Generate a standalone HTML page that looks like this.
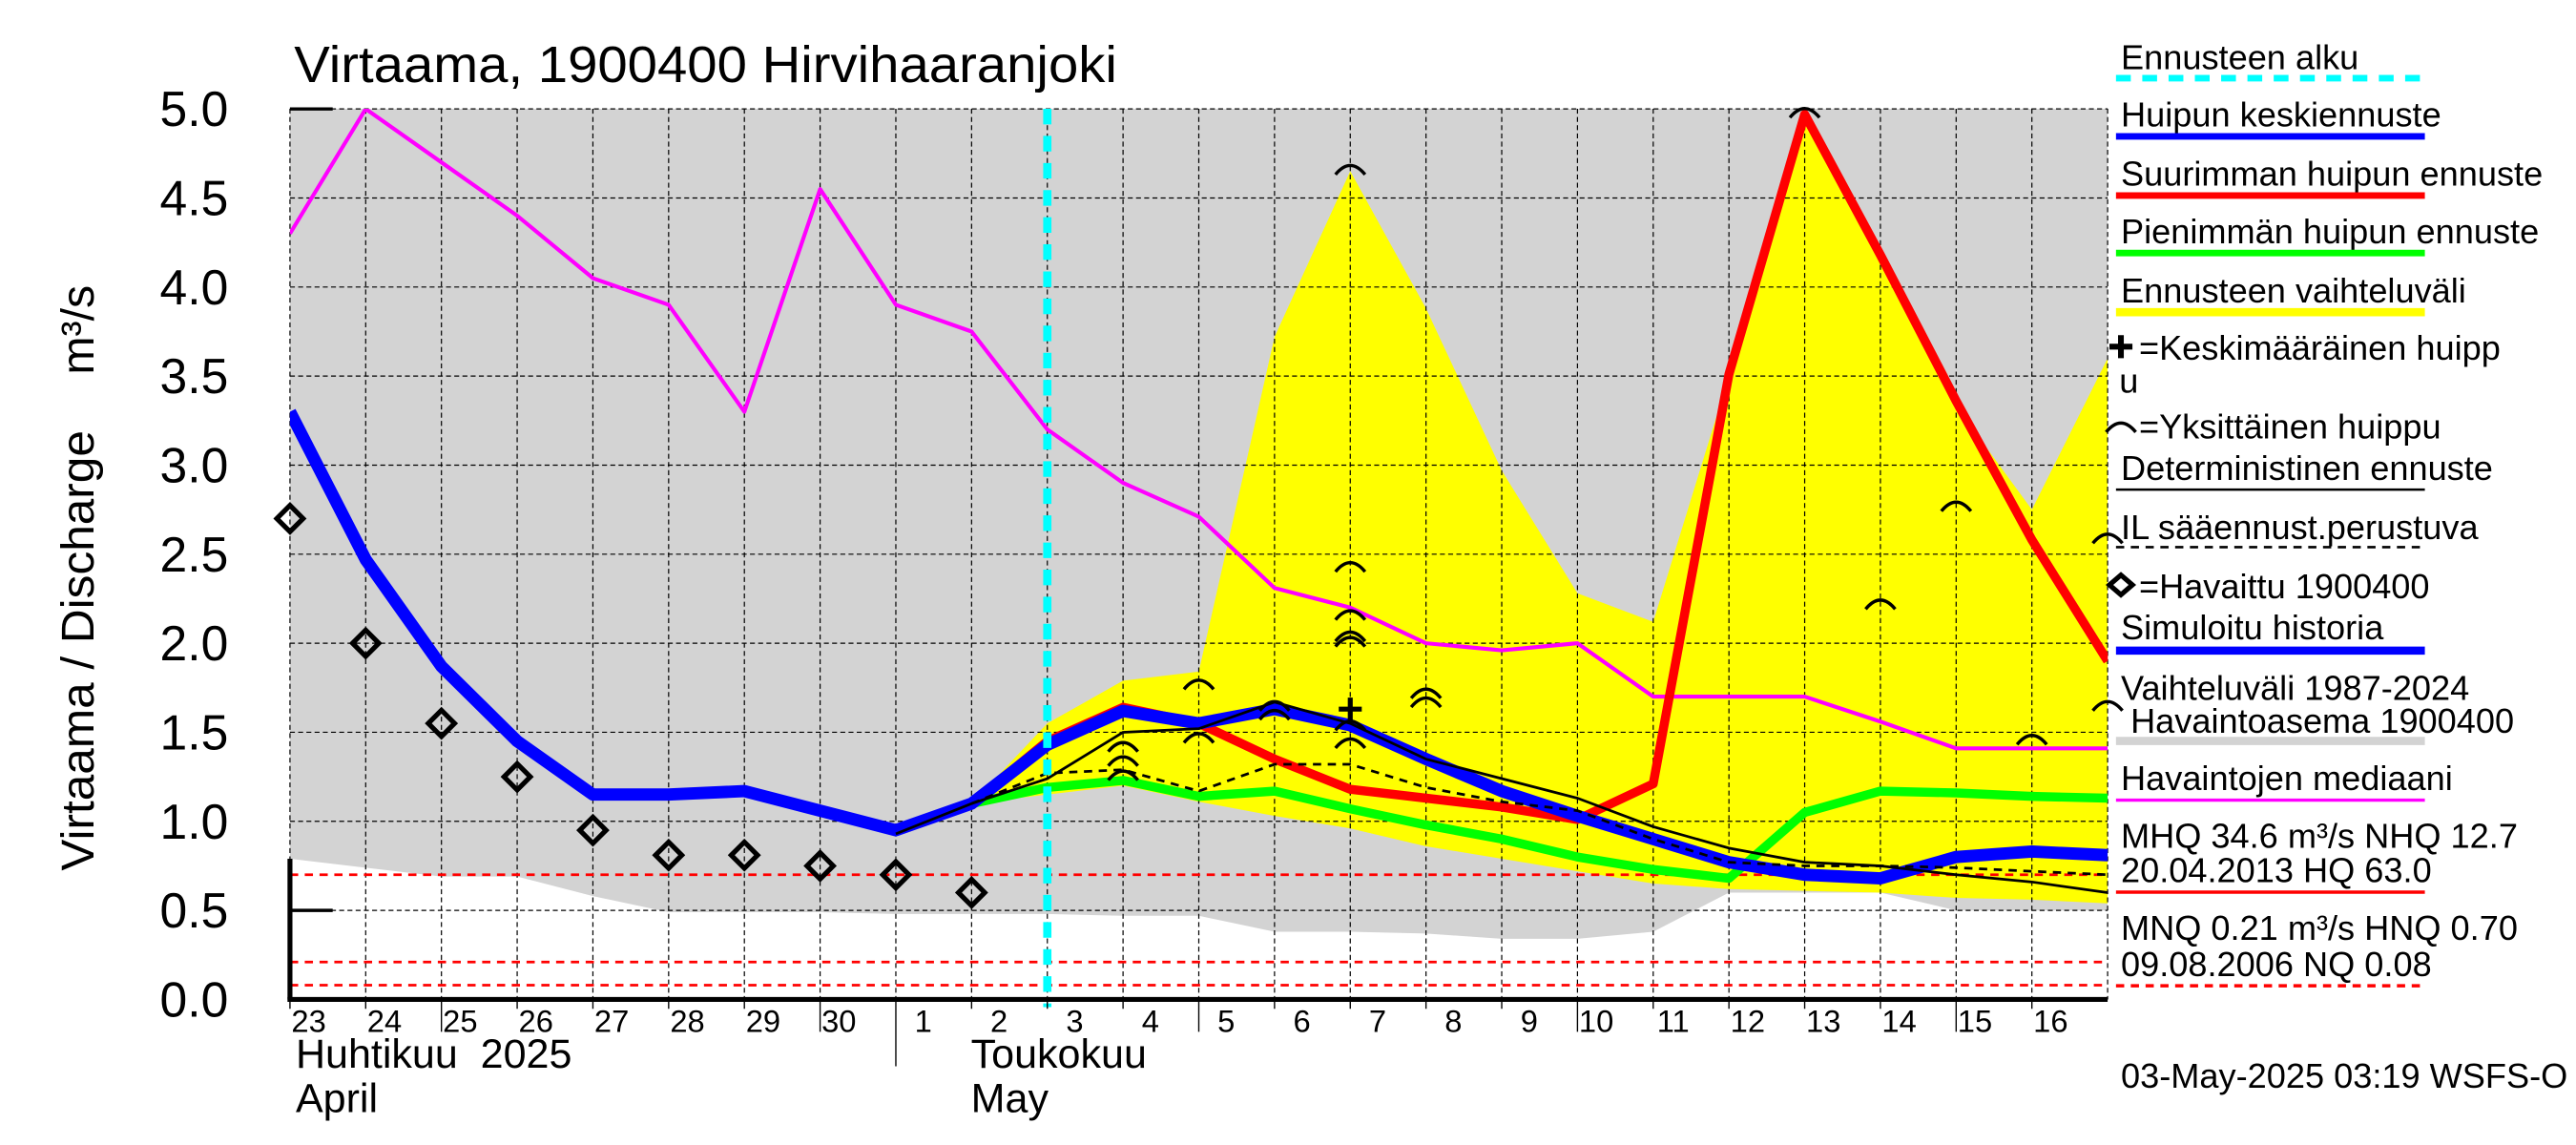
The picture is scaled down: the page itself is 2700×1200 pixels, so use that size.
<!DOCTYPE html>
<html><head><meta charset="utf-8"><style>
html,body{margin:0;padding:0;background:#fff;}
svg{display:block;font-family:"Liberation Sans",sans-serif;}
text{white-space:pre;}
</style></head><body>
<svg id="chart" width="2700" height="1200" viewBox="0 0 1568 696.9" preserveAspectRatio="none" xmlns="http://www.w3.org/2000/svg">
<defs><clipPath id="pc"><rect x="176.5" y="66.2" width="1106.5" height="542.1"/></clipPath></defs>
<g id="fills" clip-path="url(#pc)"></g>
<g id="grid"></g>
<g id="lines" clip-path="url(#pc)"></g>
<g id="marks"></g>
<g id="axes"></g>
<text x="179" y="50" font-size="31" textLength="501" lengthAdjust="spacingAndGlyphs">Virtaama, 1900400 Hirvihaaranjoki</text>
<text transform="translate(57,530) rotate(-90)" font-size="28" textLength="268" lengthAdjust="spacingAndGlyphs">Virtaama / Discharge</text>
<text transform="translate(57,228) rotate(-90)" font-size="28">m³/s</text>
<g id="legend" font-size="21"></g>
<text x="1291" y="662" font-size="21">03-May-2025 03:19 WSFS-O</text>
</svg>
<script>
const dayLabels = ["23","24","25","26","27","28","29","30","1","2","3","4","5","6","7","8","9","10","11","12","13","14","15","16"];
const yTicks = [0,0.5,1,1.5,2,2.5,3,3.5,4,4.5,5];
const yTickLabels = ["0.0","0.5","1.0","1.5","2.0","2.5","3.0","3.5","4.0","4.5","5.0"];
const medianSeries = [4.3,5.0,4.7,4.4,4.05,3.9,3.3,4.55,3.9,3.75,3.2,2.9,2.71,2.31,2.2,2.0,1.96,2.0,1.7,1.7,1.7,1.56,1.41,1.41,1.41];
const simSeries = [3.3,2.47,1.87,1.45,1.15,1.15,1.17,1.06,0.95,1.1,1.43,1.62,1.55,1.63,1.54,1.35,1.17,1.03,0.9,0.77,0.7,0.68,0.8,0.83,0.81];
const maxSeries = [null,null,null,null,null,null,null,null,null,1.1,1.45,1.64,1.55,1.35,1.18,1.13,1.08,1.01,1.21,3.51,4.97,4.18,3.36,2.58,1.9];
const minSeries = [null,null,null,null,null,null,null,null,null,1.1,1.19,1.23,1.14,1.17,1.07,0.98,0.9,0.8,0.73,0.68,1.05,1.17,1.16,1.14,1.13];
const detSeries = [null,null,null,null,null,null,null,null,0.93,1.1,1.24,1.5,1.52,1.67,1.55,1.35,1.24,1.13,0.97,0.85,0.77,0.75,0.7,0.66,0.6];
const ilSeries = [null,null,null,null,null,null,null,null,null,1.1,1.27,1.29,1.17,1.32,1.32,1.19,1.11,1.06,0.9,0.77,0.75,0.75,0.74,0.72,0.7];
const bandUpper = [null,null,null,null,null,null,null,null,null,1.1,1.55,1.79,1.84,3.72,4.65,3.88,2.97,2.28,2.12,3.5,4.97,4.2,3.33,2.75,3.6];
const bandLower = [null,null,null,null,null,null,null,null,null,1.1,1.15,1.2,1.11,1.03,0.96,0.86,0.79,0.72,0.65,0.62,0.61,0.6,0.57,0.56,0.54];
const histUpper = [5.3,5.3,5.3,5.3,5.3,5.3,5.3,5.3,5.3,5.3,5.3,5.3,5.3,5.3,5.3,5.3,5.3,5.3,5.3,5.3,5.3,5.3,5.3,5.3,5.3];
const histLower = [0.79,0.74,0.69,0.69,0.58,0.49,0.49,0.49,0.48,0.48,0.48,0.47,0.47,0.38,0.38,0.37,0.34,0.34,0.38,0.6,0.6,0.6,0.5,0.5,0.5];
const obsDays = [0,1,2,3,4,5,6,7,8,9];
const obsValues = [2.7,2.0,1.55,1.25,0.95,0.81,0.81,0.75,0.7,0.6];
const peakDays = [11,11,11,12,12,13,13,14,14,14,14,14,14,14,15,15,20,21,22,23,24,24];
const peakValues = [1.25,1.33,1.41,1.76,1.46,1.64,1.59,4.65,2.42,2.15,2.03,2.0,1.53,1.43,1.71,1.66,4.97,2.21,2.76,1.45,2.58,1.64];
const meanPeakDay = [14];
const meanPeakValue = [1.63];
const refLevels = [0.70,0.21,0.08];
const forecastStart = [10];

const NS="http://www.w3.org/2000/svg";
const X0=176.5, DX=46.1, Y0=608.3, KY=108.4;
function X(d){return X0+d*DX;}
function Y(v){return Y0-v*KY;}
function mk(tag,attrs,parent){const e=document.createElementNS(NS,tag);for(const k in attrs)e.setAttribute(k,attrs[k]);parent.appendChild(e);return e;}
const fills=document.getElementById('fills'),grid=document.getElementById('grid'),lines=document.getElementById('lines'),marks=document.getElementById('marks'),axes=document.getElementById('axes'),legend=document.getElementById('legend');

function bandPath(up,lo){let top=[],bot=[];up.forEach((v,i)=>{if(v!=null)top.push(X(i).toFixed(1)+','+Y(v).toFixed(1));});
 for(let i=lo.length-1;i>=0;i--){if(lo[i]!=null)bot.push(X(i).toFixed(1)+','+Y(lo[i]).toFixed(1));}return 'M'+top.join('L')+'L'+bot.join('L')+'Z';}
function linePath(s){let p='',st=false;s.forEach((v,i)=>{if(v==null){st=false;return;}p+=(st?'L':'M')+X(i).toFixed(1)+','+Y(v).toFixed(1);st=true;});return p;}

let e;
e=mk('path',{d:bandPath(histUpper,histLower),fill:'#d3d3d3'},fills);


e=mk('path',{d:bandPath(bandUpper,bandLower),fill:'#ffff00'},fills);



dayLabels.forEach((l,i)=>{ if(i>0){e=mk('line',{x1:X(i),x2:X(i),y1:66.2,y2:Y0,stroke:'#000','stroke-width':0.7,'stroke-dasharray':'3,2'},grid);

}});
yTicks.forEach((v,i)=>{ if(v>0){e=mk('line',{x1:X0,x2:X(24),y1:Y(v),y2:Y(v),stroke:'#000','stroke-width':0.7,'stroke-dasharray':'3,2'},grid);

}});
e=mk('line',{x1:X(24),x2:X(24),y1:66.2,y2:Y0,stroke:'#000','stroke-width':0.7,'stroke-dasharray':'3,2'},grid);


e=mk('line',{x1:X0,x2:X0,y1:66.2,y2:Y0,stroke:'#000','stroke-width':0.7,'stroke-dasharray':'3,2'},grid);



refLevels.forEach(v=>{e=mk('line',{x1:X0,x2:X(24),y1:Y(v),y2:Y(v),stroke:'#ff0000','stroke-width':1.6,'stroke-dasharray':'5,4'},lines);

});

function series(data,color,w,name,dash){e=mk('path',{d:linePath(data),fill:'none',stroke:color,'stroke-width':w,'stroke-linejoin':'round'},lines);
if(dash)e.setAttribute('stroke-dasharray',dash);

}
series(medianSeries,'#ff00ff',2.4,'median-line');
series(minSeries,'#00ff00',5.5,'min-peak-forecast-line');
series(maxSeries,'#ff0000',5.5,'max-peak-forecast-line');
series(simSeries,'#0000ff',7.5,'simulated-mean-forecast-line');
series(ilSeries,'#000',1.6,'il-weather-forecast-line','5,4');
series(detSeries,'#000',1.6,'deterministic-forecast-line');

forecastStart.forEach(d=>{e=mk('line',{x1:X(d),x2:X(d),y1:66.2,y2:613,stroke:'#00ffff','stroke-width':5,'stroke-dasharray':'9.5,7'},marks);

});

obsDays.forEach((d,i)=>{const x=X(d),y=Y(obsValues[i]);
e=mk('path',{d:`M${x-8},${y}L${x},${y-8}L${x+8},${y}L${x},${y+8}Z`,fill:'none',stroke:'#000','stroke-width':3},marks);

});

function arc(x,y,parent){return mk('path',{d:`M${x-9},${y+2}Q${x},${y-9} ${x+9},${y+2}`,fill:'none',stroke:'#000','stroke-width':2},parent);}
peakDays.forEach((d,i)=>{e=arc(X(d),Y(peakValues[i]),marks);

});
meanPeakDay.forEach((d,i)=>{const x=X(d),y=Y(meanPeakValue[i]);
e=mk('path',{d:`M${x-7},${y}H${x+7}M${x},${y-7}V${y+7}`,stroke:'#000','stroke-width':3},marks);

});

e=mk('line',{x1:X0-1.5,x2:X(24),y1:Y0,y2:Y0,stroke:'#000','stroke-width':3},axes);


e=mk('line',{x1:X0,x2:X0,y1:Y(0.79),y2:Y0,stroke:'#000','stroke-width':3},axes);


[5,0.5].forEach(v=>{e=mk('line',{x1:X0,x2:X0+26,y1:Y(v),y2:Y(v),stroke:'#000','stroke-width':2},axes);

});
yTicks.forEach((v,i)=>{e=mk('text',{x:139,y:Y(v)+10.5,'text-anchor':'end','font-size':30},axes);e.textContent=yTickLabels[i];

});
dayLabels.forEach((l,i)=>{const n=parseInt(l);let y2=614;if(n%5==0)y2=628;if(i==8)y2=649;
e=mk('line',{x1:X(i),x2:X(i),y1:Y0,y2:y2,stroke:'#000','stroke-width':0.8},axes);


e=mk('text',{x:X(i)+22,y:628,'text-anchor':'end','font-size':19},axes);e.textContent=l;

});
[[180,650,'Huhtikuu  2025','month-label-fi'],[180,677,'April','month-label-en'],[591,650,'Toukokuu','month-label-fi'],[591,677,'May','month-label-en']].forEach(t=>{
e=mk('text',{x:t[0],y:t[1],'font-size':25},axes);e.textContent=t[2];

});

const L=[
 ['Ennusteen alku',42,{c:'#00ffff',y:47.6,w:4,dash:'9,7'}],
 ['Huipun keskiennuste',77,{c:'#0000ff',y:83,w:4}],
 ['Suurimman huipun ennuste',113,{c:'#ff0000',y:119,w:4}],
 ['Pienimmän huipun ennuste',148,{c:'#00ff00',y:154,w:4}],
 ['Ennusteen vaihteluväli',184,{c:'#ffff00',y:190,w:5}],
 ['=Keskimääräinen huipp',219,null,1302],
 ['u',239,null,1290],
 ['=Yksittäinen huippu',267,null,1302],
 ['Deterministinen ennuste',292,{c:'#000',y:298,w:1.5}],
 ['IL sääennust.perustuva',328,{c:'#000',y:333,w:1.5,dash:'5,4'}],
 ['=Havaittu 1900400',364,null,1302],
 ['Simuloitu historia',389,{c:'#0000ff',y:396,w:5}],
 ['Vaihteluväli 1987-2024',426,null],
 [' Havaintoasema 1900400',446,{c:'#d3d3d3',y:451,w:5}],
 ['Havaintojen mediaani',481,{c:'#ff00ff',y:487,w:2}],
 ['MHQ 34.6 m³/s NHQ 12.7',516,null],
 ['20.04.2013 HQ 63.0',537,{c:'#ff0000',y:543,w:2}],
 ['MNQ 0.21 m³/s HNQ 0.70',572,null],
 ['09.08.2006 NQ 0.08',594,{c:'#ff0000',y:600,w:2,dash:'5,4'}]
];
L.forEach(it=>{const t=mk('text',{x:it[3]||1291,y:it[1]},legend);t.textContent=it[0];


if(it[2]){const s=it[2];const ln=mk('line',{x1:1288,x2:1476,y1:s.y,y2:s.y,stroke:s.c,'stroke-width':s.w},legend);if(s.dash)ln.setAttribute('stroke-dasharray',s.dash);

}});
e=mk('path',{d:'M1284,211H1298M1291,204V218',stroke:'#000','stroke-width':3.5},legend);


e=mk('path',{d:'M1282,263Q1291,252 1300,263',fill:'none',stroke:'#000','stroke-width':2},legend);


e=mk('path',{d:'M1284,356L1291,350L1298,356L1291,362Z',fill:'none',stroke:'#000','stroke-width':3},legend);


</script>
</body></html>
